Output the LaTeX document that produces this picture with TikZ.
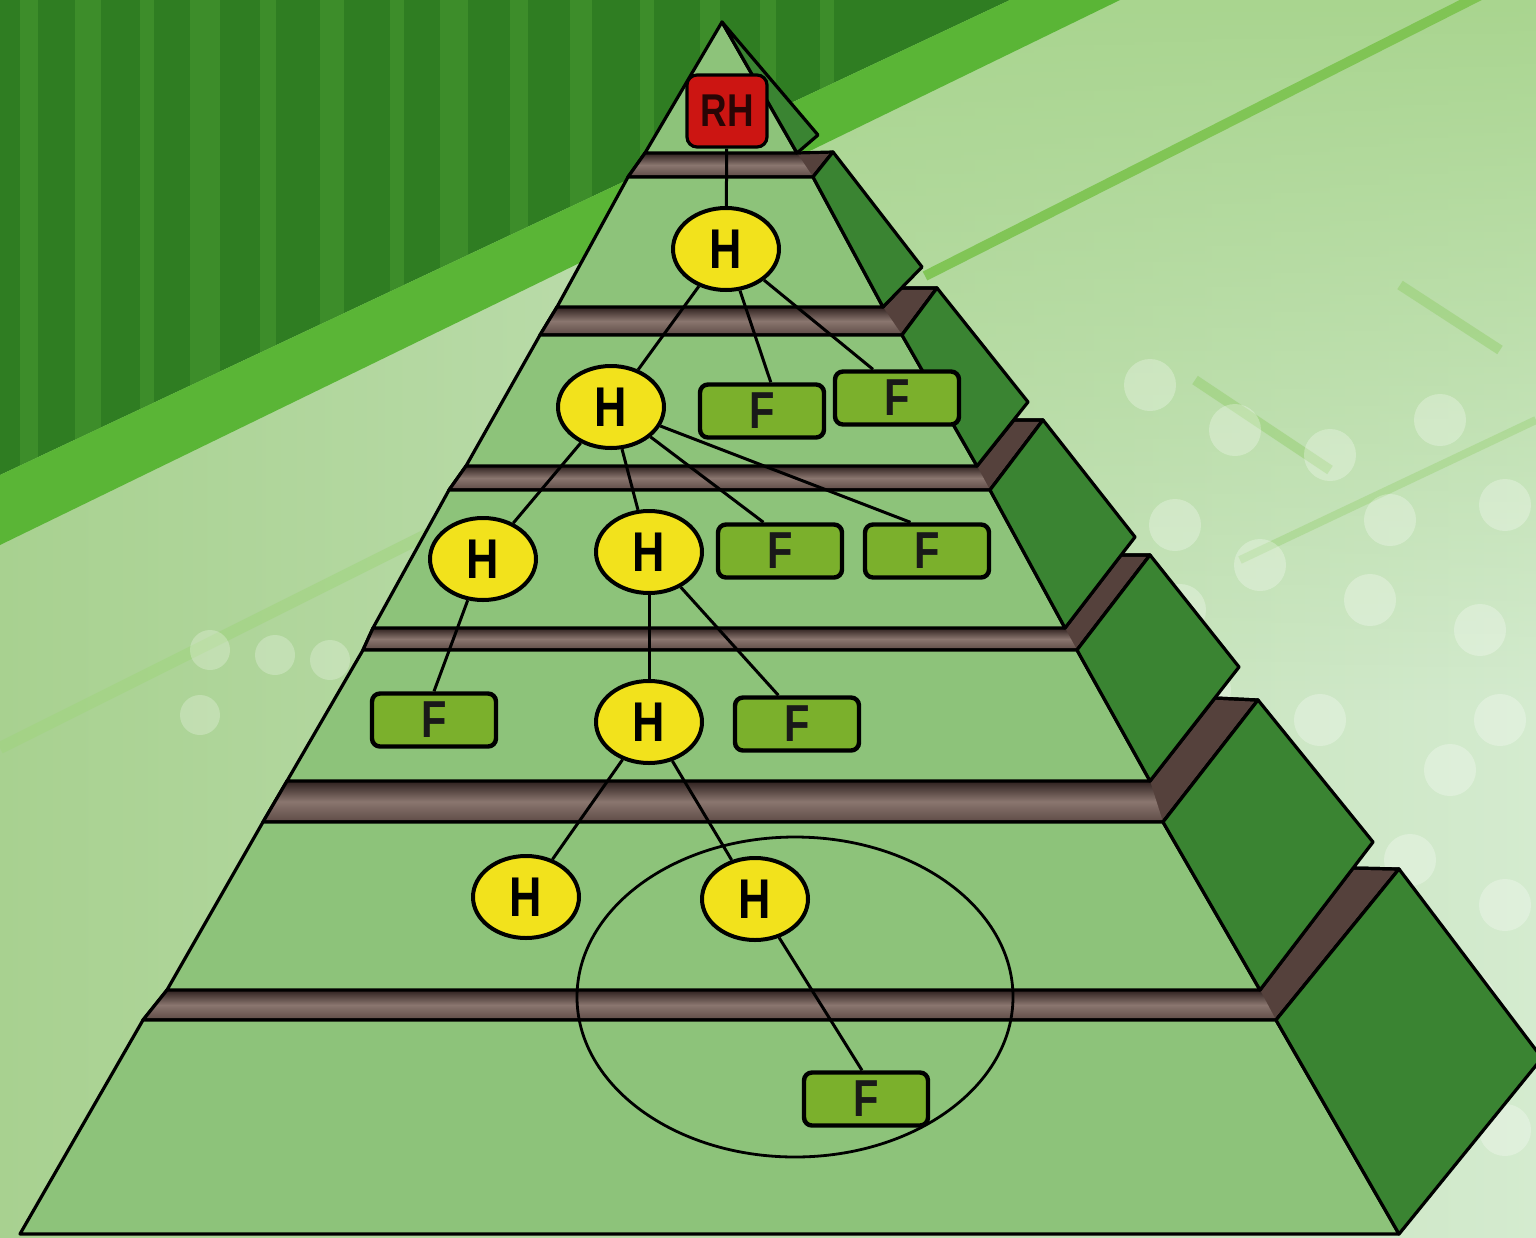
\documentclass[tikz,border=0pt]{standalone}
\usepackage{fontspec}
\newfontfamily\lblfont[FakeStretch=0.8]{Liberation Sans}
\usetikzlibrary{shapes.geometric,fadings}
\definecolor{frontgreen}{HTML}{8DC37A}
\definecolor{sidegreen}{HTML}{3A8432}
\definecolor{hyellow}{HTML}{F2E21C}
\definecolor{fgreen}{HTML}{7BB02C}
\definecolor{rhred}{HTML}{CC1512}
\definecolor{slabdark}{HTML}{2E201E}
\definecolor{slablight}{HTML}{8A766F}
\definecolor{slabmid}{HTML}{5E4B46}
\definecolor{slabside}{HTML}{55413C}
\definecolor{bgleft}{HTML}{A8D190}
\definecolor{bgright}{HTML}{D4EBCF}
\definecolor{bgtopright}{HTML}{A9D58F}
\definecolor{bgdark}{HTML}{2F7D22}
\definecolor{bgstripe}{HTML}{4C9E33}
\definecolor{bgband}{HTML}{5AB536}
\definecolor{bgline}{HTML}{79C24A}
\begin{document}
\begin{tikzpicture}[x=0.5pt,y=-0.5pt,
  front/.style={fill=frontgreen, draw=black, line width=1.6pt, line join=round},
  sideface/.style={fill=sidegreen, draw=black, line width=1.6pt, line join=round},
  slab/.style={fill=slabside, draw=black, line width=1.6pt, line join=round},
  slabfront/.style={top color=slabdark, bottom color=slabmid, middle color=slablight},
  hnode/.style={ellipse, fill=hyellow, draw=black, line width=2pt, minimum width=53pt, minimum height=41pt, inner sep=0pt, font=\lblfont\bfseries\fontsize{28}{28}\selectfont},
  fnode/.style={rectangle, rounded corners=4pt, fill=fgreen, draw=black, line width=2.2pt, minimum width=62pt, minimum height=26.5pt, inner sep=0pt, text=black!90, font=\lblfont\bfseries\fontsize{26}{26}\selectfont},
  rhnode/.style={rectangle, rounded corners=5pt, fill=rhred, draw=black, line width=1.6pt, minimum width=40pt, minimum height=36pt, inner sep=0pt, text={rgb,255:red,40;green,5;blue,5}, font=\lblfont\bfseries\fontsize{23}{23}\selectfont},
  link/.style={draw=black, line width=1.5pt},
  ring/.style={draw=black, line width=1.4pt}
]
\useasboundingbox (0,0) rectangle (1536,1237);
% ---------- background ----------
\shade[left color=bgleft, right color=bgright] (0,0) rectangle (1536,1237);
\fill[bgtopright, path fading=south] (800,0) rectangle (1536,700);
\begin{scope}
  \clip (0,0) -- (1010,0) -- (0,475) -- cycle;
  \fill[bgdark] (0,0) rectangle (1010,480);
  \foreach \sx/\sw in {20/18,75/26,140/14,190/30,260/16,320/24,390/14,440/28,510/18,570/22,640/14,700/20,760/16,820/14}
    \fill[bgstripe, opacity=0.5] (\sx,0) rectangle ++(\sw,480);
\end{scope}
\fill[bgband] (0,475) -- (1010,0) -- (1120,0) -- (0,545) -- cycle;
\draw[bgline, line width=5pt, opacity=0.85] (925,276) -- (1536,-33);
\draw[bgline!70!white, line width=6pt, opacity=0.6] (0,748) -- (440,528);
\draw[bgline!80!white, line width=5pt, opacity=0.5] (1195,380) -- (1330,470);
\draw[bgline!80!white, line width=5pt, opacity=0.5] (1400,285) -- (1500,350);
\draw[bgline!80!white, line width=4pt, opacity=0.4] (1240,560) -- (1536,420);
\foreach \cx/\cy in {1150/385,1235/430,1330/455,1440/420,1505/505,1175/525,1260/565,1370/600,1480/630,1205/690,1320/720,1450/770,1290/800,1410/860,1505/905,1470/1000,1505/1130,1180/610,1390/520,1500/720}
  \fill[white, opacity=0.28] (\cx,\cy) circle (13pt);
\foreach \cx/\cy in {210/650,275/655,330/660,200/715}
  \fill[white, opacity=0.25] (\cx,\cy) circle (10pt);
% ---------- slabs ----------
\path[slab] (645,153) -- (797,153) -- (833,152) -- (813,177) -- (628,177) -- cycle;
\path[slabfront] (645,153) -- (797,153) -- (813,177) -- (628,177) -- cycle;
\path[slab] (557,307) -- (883,307) -- (901,288) -- (937,288) -- (902,335) -- (540,335) -- cycle;
\path[slabfront] (557,307) -- (883,307) -- (902,335) -- (540,335) -- cycle;
\path[slab] (466,466) -- (977,466) -- (1014,420) -- (1043,420) -- (990,490) -- (449,490) -- cycle;
\path[slabfront] (466,466) -- (977,466) -- (990,490) -- (449,490) -- cycle;
\path[slab] (373,628) -- (1065,628) -- (1121,555) -- (1150,555) -- (1077,650) -- (363,650) -- cycle;
\path[slabfront] (373,628) -- (1065,628) -- (1077,650) -- (363,650) -- cycle;
\path[slab] (287,781) -- (1150,781) -- (1215,698) -- (1258,700) -- (1163,822) -- (263,822) -- cycle;
\path[slabfront] (287,781) -- (1150,781) -- (1163,822) -- (263,822) -- cycle;
\path[slab] (167,990) -- (1260,990) -- (1353,868) -- (1399,869) -- (1276,1020) -- (143,1020) -- cycle;
\path[slabfront] (167,990) -- (1260,990) -- (1276,1020) -- (143,1020) -- cycle;
% slab outlines over the shading
\foreach \p in {{(645,153) -- (628,177) -- (813,177) -- (833,152)},
                {(557,307) -- (540,335) -- (902,335) -- (937,288) -- (901,288)},
                {(466,466) -- (449,490) -- (990,490) -- (1043,420) -- (1014,420)},
                {(373,628) -- (363,650) -- (1077,650) -- (1150,555) -- (1121,555)},
                {(287,781) -- (263,822) -- (1163,822) -- (1258,700) -- (1215,698)},
                {(167,990) -- (143,1020) -- (1276,1020) -- (1399,869) -- (1353,868)}}
  \draw[black, line width=1.6pt, line join=round] \p;
% ---------- tiers ----------
\path[front] (722,22) -- (797,153) -- (645,153) -- cycle;
\path[sideface] (722,22) -- (818,135) -- (797,153) -- cycle;
\path[front] (628,177) -- (813,177) -- (883,307) -- (557,307) -- cycle;
\path[sideface] (813,177) -- (833,152) -- (922,267) -- (883,307) -- cycle;
\path[front] (540,335) -- (902,335) -- (977,466) -- (466,466) -- cycle;
\path[sideface] (902,335) -- (937,288) -- (1028,402) -- (977,466) -- cycle;
\path[front] (449,490) -- (990,490) -- (1065,628) -- (373,628) -- cycle;
\path[sideface] (990,490) -- (1043,420) -- (1135,537) -- (1065,628) -- cycle;
\path[front] (363,650) -- (1077,650) -- (1150,781) -- (287,781) -- cycle;
\path[sideface] (1077,650) -- (1150,555) -- (1239,667) -- (1150,781) -- cycle;
\path[front] (263,822) -- (1163,822) -- (1260,990) -- (167,990) -- cycle;
\path[sideface] (1163,822) -- (1258,700) -- (1373,842) -- (1260,990) -- cycle;
\path[front] (143,1020) -- (1276,1020) -- (1399,1234) -- (20,1234) -- cycle;
\path[sideface] (1276,1020) -- (1399,869) -- (1542,1058) -- (1399,1234) -- cycle;
% ---------- highlight ring ----------
\draw[ring] (795,997) ellipse [x radius=109pt, y radius=80pt];
% ---------- nodes ----------
\node[rhnode] (RH) at (727,111) {RH};
\node[hnode] (H1) at (726,249) {H};
\node[hnode] (H2) at (611,407) {H};
\node[fnode] (F3a) at (762,411) {F};
\node[fnode] (F3b) at (897,398) {F};
\node[hnode] (H4a) at (483,559) {H};
\node[hnode] (H4b) at (649,552) {H};
\node[fnode] (F4a) at (780,551) {F};
\node[fnode] (F4b) at (927,551) {F};
\node[fnode] (F5a) at (434,720) {F};
\node[hnode] (H5) at (649,722) {H};
\node[fnode] (F5b) at (797,724) {F};
\node[hnode] (H6a) at (526,897) {H};
\node[hnode] (H6b) at (755,899) {H};
\node[fnode] (F7) at (866,1099) {F};
% ---------- connectors ----------
\draw[link] (RH) -- (H1);
\draw[link] (H1) -- (H2);
\draw[link] (H1) -- (F3a.73);
\draw[link] (H1) -- (F3b.130);
\draw[link] (H2) -- (H4a);
\draw[link] (H2) -- (H4b);
\draw[link] (H2) -- (F4a.120);
\draw[link] (H2) -- (F4b.120);
\draw[link] (H4a) -- (F5a.north);
\draw[link] (H4b) -- (H5);
\draw[link] (H4b) -- (F5b.123);
\draw[link] (H5) -- (H6a);
\draw[link] (H5) -- (H6b);
\draw[link] (H6b) -- (F7.98);
\end{tikzpicture}
\end{document}
